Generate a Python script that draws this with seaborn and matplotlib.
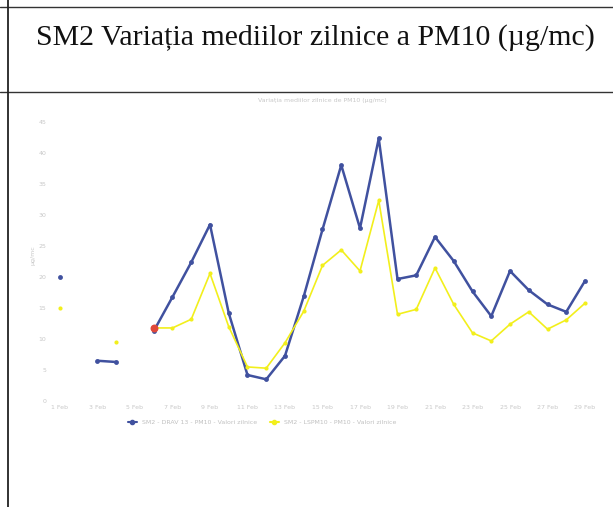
import numpy as np
import pandas as pd
import matplotlib
matplotlib.use("Agg")
import matplotlib.pyplot as plt
from matplotlib.lines import Line2D
import seaborn as sns

# Daily PM10 means, February (NaN = no data)
days = list(range(1, 30))
drav = [20.0, np.nan, 6.5, 6.3, np.nan, 11.3, 16.8, 22.4, 28.5, 14.2,
        4.2, 3.5, 7.3, 16.9, 27.7, 38.1, 27.9, 42.4, 19.7, 20.3,
        26.5, 22.6, 17.7, 13.7, 21.0, 17.9, 15.6, 14.4, 19.4]
lvs = [15.0, np.nan, np.nan, 9.5, np.nan, 11.8, 11.8, 13.2, 20.6, 12.0,
       5.5, 5.3, 9.4, 14.5, 21.9, 24.4, 21.0, 32.4, 14.0, 14.8,
       21.5, 15.6, 11.0, 9.7, 12.4, 14.4, 11.6, 13.1, 15.8]
series_names = ["SM2 - DRAV 13 - PM10 - Valori zilnice",
                "SM2 - LSPM10 - PM10 - Valori zilnice"]
tick_days = list(range(1, 30, 2))
tick_labels = [f"{d} Feb" for d in tick_days]
yticks = [0, 5, 10, 15, 20, 25, 30, 35, 40, 45]
highlight_day = 6

colors = {series_names[0]: "#40519f", series_names[1]: "#f2ef1c"}

# long table, with a segment id so gaps are not bridged
rows = []
for name, vals in zip(series_names, [drav, lvs]):
    seg = 0
    for d, v in zip(days, vals):
        if np.isnan(v):
            seg += 1
            continue
        rows.append({"day": d, "value": v, "series": name, "segment": f"{name}-{seg}"})
df = pd.DataFrame(rows)

sns.set_style("white")
plt.rcParams['font.family'] = ['DejaVu Sans']

fig = plt.figure(figsize=(6.13, 5.07), dpi=100)

# scanned table frame
fig.add_artist(Line2D([0, 1], [1 - 7/507, 1 - 7/507], color="#333333", lw=1.0))
fig.add_artist(Line2D([0, 1], [1 - 92/507, 1 - 92/507], color="#333333", lw=1.0))
fig.add_artist(Line2D([8/613, 8/613], [0, 1], color="#222222", lw=1.3))
fig.text(0.515, 1 - 38/507, "SM2 Variația mediilor zilnice a PM10 (µg/mc)",
         ha="center", va="center", fontsize=21.5, family="Liberation Serif",
         color="#111111")

ax = fig.add_axes([50.6/613, 106/507, 543.8/613, 291/507])

# blue series drawn thicker, yellow thinner
sns.lineplot(data=df[df.series == series_names[0]], x="day", y="value",
             units="segment", estimator=None, color=colors[series_names[0]],
             lw=1.8, marker="o", markersize=3.5, markeredgewidth=0, ax=ax)
sns.lineplot(data=df[df.series == series_names[1]], x="day", y="value",
             units="segment", estimator=None, color=colors[series_names[1]],
             lw=1.2, marker="o", markersize=3, markeredgewidth=0, ax=ax)
hi = df[(df.series == series_names[1]) & (df.day == highlight_day)]
ax.scatter(hi.day, hi.value, color="#e0483a", s=22, zorder=5)

ax.set_xlim(0.5, 29.5)
ax.set_ylim(0, 47)
ax.set_xticks(tick_days)
ax.set_xticklabels(tick_labels)
ax.set_yticks(yticks)
ax.tick_params(axis="both", labelsize=4.5, colors="#c8c8c8", length=0, pad=3)
ax.set_xlabel("")
ax.set_ylabel("µg/mc", fontsize=4.5, color="#c8c8c8", labelpad=2)
for s in ax.spines.values():
    s.set_visible(False)
ax.set_title("Variația mediilor zilnice de PM10 (µg/mc)", fontsize=4.5,
             color="#c8c8c8", pad=6)

handles = [Line2D([], [], color=colors[n], lw=1.5, marker="o", markersize=3) for n in series_names]
fig.legend(handles, series_names, loc="center", bbox_to_anchor=(262/613, 1 - 422/507),
           ncol=2, frameon=False, fontsize=4.5, labelcolor="#c0c0c0",
           handlelength=1.5, columnspacing=2)

fig.savefig("out.png", dpi=100)
